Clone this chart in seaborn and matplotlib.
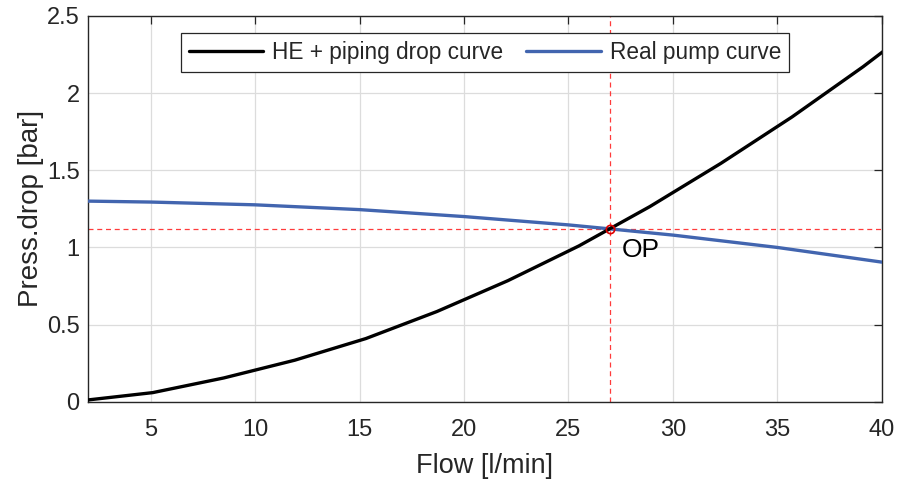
import matplotlib
matplotlib.use("Agg")
import matplotlib.pyplot as plt
import numpy as np
import pandas as pd
import seaborn as sns

# Heat exchanger + piping pressure drop (system curve)
flow_sys = [1.7, 5.1, 8.5, 11.9, 15.3, 18.7, 22.1, 25.5, 28.9, 32.3, 35.7, 39.1, 42.5]
drop_sys = [0.008, 0.06, 0.155, 0.27, 0.41, 0.585, 0.785, 1.01, 1.265, 1.545, 1.845, 2.17, 2.52]

# Real pump curve
flow_pump = [2, 5, 10, 15, 20, 25, 27, 30, 35, 40]
head_pump = [1.30, 1.294, 1.276, 1.245, 1.20, 1.146, 1.12, 1.08, 1.00, 0.905]

# Operating point
op_flow = 27.0
op_press = 1.12

x_ticks = [5, 10, 15, 20, 25, 30, 35, 40]
y_ticks = [0, 0.5, 1, 1.5, 2, 2.5]
y_tick_labels = ["0", "0.5", "1", "1.5", "2", "2.5"]

sns.set_theme(style="white")
plt.rcParams["font.family"] = ["Liberation Sans", "DejaVu Sans"]

fig = plt.figure(figsize=(8.98, 4.79), dpi=100)
ax = fig.add_axes([0.098, 0.161, 0.884, 0.806])

sys_df = pd.DataFrame({"flow": flow_sys, "drop": drop_sys})
pump_df = pd.DataFrame({"flow": flow_pump, "drop": head_pump})

sns.lineplot(data=sys_df, x="flow", y="drop", ax=ax, color="black",
             linewidth=2.4, estimator=None, sort=False,
             label="HE + piping drop curve", zorder=4)
sns.lineplot(data=pump_df, x="flow", y="drop", ax=ax, color="#4265AF",
             linewidth=2.4, estimator=None, sort=False,
             label="Real pump curve", zorder=3)

# Guide lines through the operating point
ax.axvline(op_flow, color="#ff3b3b", linewidth=0.9, linestyle=(0, (4, 3)), zorder=2)
ax.axhline(op_press, color="#ff3b3b", linewidth=0.9, linestyle=(0, (4, 3)), zorder=2)
ax.plot([op_flow], [op_press], marker="o", markersize=6, markerfacecolor="none",
        markeredgecolor="#dd0000", markeredgewidth=1.2, linestyle="none", zorder=5)
ax.text(op_flow + 0.55, op_press - 0.135, "OP", fontsize=19, color="black",
        ha="left", va="center", zorder=6)

ax.set_xlim(2, 40)
ax.set_ylim(0, 2.5)
ax.set_xticks(x_ticks)
ax.set_yticks(y_ticks)
ax.set_yticklabels(y_tick_labels)
ax.grid(True, color="#dcdcdc", linewidth=0.9)
ax.set_axisbelow(True)

ax.tick_params(axis="both", direction="in", length=6, width=0.9, color="#262626",
               labelsize=17, labelcolor="#262626", top=True, right=True)
ax.tick_params(axis="x", pad=12)
ax.tick_params(axis="y", pad=6)
for s in ax.spines.values():
    s.set_visible(True)
    s.set_color("#262626")
    s.set_linewidth(1.0)

ax.set_xlabel("Flow [l/min]", fontsize=19.5, color="#262626", labelpad=9)
ax.set_ylabel("Press.drop [bar]", fontsize=20, color="#262626", labelpad=2)

leg = ax.legend(loc="upper center", bbox_to_anchor=(0.5, 0.955), ncol=2,
                fontsize=16.3, frameon=True, fancybox=False, framealpha=1,
                edgecolor="#262626", handlelength=3.3, columnspacing=1.0,
                handletextpad=0.4, borderpad=0.35, borderaxespad=0)
leg.get_frame().set_linewidth(0.9)

fig.savefig("out.png", dpi=100)
